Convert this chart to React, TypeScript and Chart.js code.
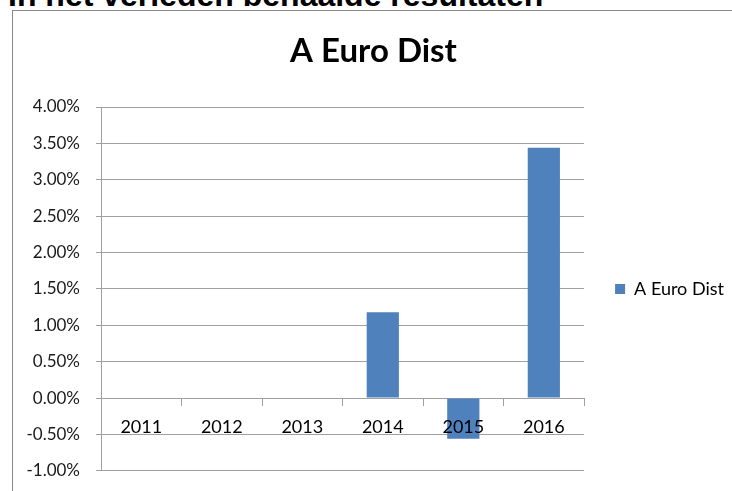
import React, { useEffect, useRef } from "react";
import { Chart, registerables } from "chart.js";

Chart.register(...registerables);

const categories = ["2011", "2012", "2013", "2014", "2015", "2016"];
const seriesName = "A Euro Dist";
const values = [0, 0, 0, 1.18, -0.56, 3.44];
const yMin = -1;
const yMax = 4;
const yStep = 0.5;
const chartTitle = "A Euro Dist";
const headerText = "In het verleden behaalde resultaten";

export default function App() {
  const ref = useRef<HTMLCanvasElement | null>(null);

  useEffect(() => {
    if (!ref.current) return;
    const gridColor = "#a0a0a0";
    const chart = new Chart(ref.current, {
      type: "bar",
      data: {
        labels: categories,
        datasets: [
          {
            label: seriesName,
            data: values,
            backgroundColor: "#4F81BD",
            borderWidth: 0,
            barPercentage: 0.4,
            categoryPercentage: 1,
          },
        ],
      },
      options: {
        animation: false,
        responsive: false,
        maintainAspectRatio: false,
        layout: { padding: { top: 0, left: 0, right: 3, bottom: 16 } },
        plugins: {
          title: {
            display: true,
            text: chartTitle,
            color: "#000",
            font: { family: "Lato", size: 33, weight: "bold" },
            padding: { top: 21, bottom: 35.4 },
          },
          legend: {
            display: true,
            position: "right",
            fullSize: false,
            labels: {
              boxWidth: 10,
              boxHeight: 10,
              padding: 31,
              color: "#000",
              font: { family: "Lato", size: 18 },
            },
          },
          tooltip: { enabled: false },
        },
        scales: {
          x: {
            position: { y: 0 } as any,
            grid: {
              display: true,
              drawOnChartArea: false,
              drawTicks: true,
              tickLength: 7,
              color: gridColor,
              offset: true,
            },
            border: { display: true, color: gridColor, width: 1 },
            ticks: {
              z: 1,
              color: "#000",
              font: { family: "Lato", size: 18 },
              padding: 11,
              maxRotation: 0,
            },
          },
          y: {
            min: yMin,
            max: yMax,
            afterFit: (scale: any) => {
              scale.width = 88;
            },
            grid: {
              color: gridColor,
              drawTicks: true,
              tickLength: 5,
            },
            border: { display: true, color: gridColor, width: 1 },
            ticks: {
              stepSize: yStep,
              color: "#1a1a1a",
              font: { family: "Lato", size: 17 },
              padding: 16,
              callback: (v: any) => Number(v).toFixed(2) + "%",
            },
          },
        },
      },
    });
    return () => chart.destroy();
  }, []);

  return (
    <div
      style={{
        position: "fixed",
        left: 0,
        top: 0,
        width: 732,
        height: 491,
        overflow: "hidden",
        background: "#fff",
      }}
    >
      <div
        style={{
          position: "absolute",
          left: 8,
          top: -21.1,
          fontFamily: "'Liberation Sans', Arial, sans-serif",
          fontWeight: "bold",
          fontSize: 32,
          lineHeight: "32px",
          whiteSpace: "nowrap",
          color: "#000",
        }}
      >
        {headerText}
      </div>
      <div
        style={{
          position: "absolute",
          left: 12,
          top: 10,
          width: 724,
          height: 500,
          border: "1px solid #888",
          background: "#fff",
        }}
      >
        <canvas ref={ref} width={724} height={486} style={{ display: "block" }} />
      </div>
    </div>
  );
}
